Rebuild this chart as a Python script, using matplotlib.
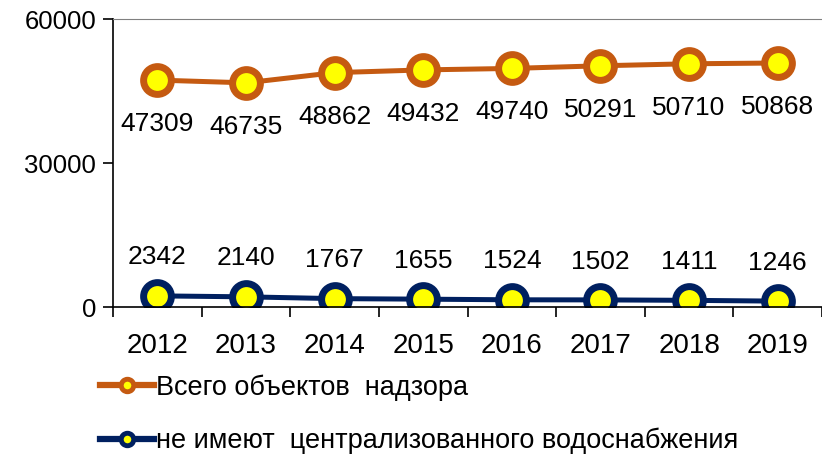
import matplotlib.pyplot as plt

plt.rcParams['font.family'] = ['Liberation Sans', 'DejaVu Sans']

years = ['2012', '2013', '2014', '2015', '2016', '2017', '2018', '2019']
vsego = [47309, 46735, 48862, 49432, 49740, 50291, 50710, 50868]
bez_vody = [2342, 2140, 1767, 1655, 1524, 1502, 1411, 1246]

orange = '#C55A11'
navy = '#002060'
yellow = '#FFFF00'

fig = plt.figure(figsize=(8.22, 4.57), dpi=100)
ax = fig.add_axes([0.1375, 0.328, 0.8625, 0.630])

x = list(range(len(years)))
l1, = ax.plot(x, vsego, color=orange, lw=3.6, marker='o', ms=20,
              mfc=yellow, mec=orange, mew=5, label='Всего объектов  надзора')
l2, = ax.plot(x, bez_vody, color=navy, lw=3.6, marker='o', ms=20,
              mfc=yellow, mec=navy, mew=5,
              label='не имеют  централизованного водоснабжения')

for xi, v in zip(x, vsego):
    ax.annotate(str(v), (xi, v), xytext=(0, -23), textcoords='offset points',
                ha='center', va='top', fontsize=19)
for xi, v in zip(x, bez_vody):
    ax.annotate(str(v), (xi, v), xytext=(0, 19), textcoords='offset points',
                ha='center', va='bottom', fontsize=19)

ax.set_xlim(-0.5, len(years) - 0.5)
ax.set_ylim(0, 60000)
ax.set_yticks([0, 30000, 60000])
ax.set_yticklabels(['0', '30000', '60000'], fontsize=18.5)
ax.set_xticks(x)
ax.set_xticklabels(years, fontsize=20)
ax.tick_params(axis='x', which='major', length=0, pad=19)
ax.set_xticks([i + 0.5 for i in range(-1, len(years))], minor=True)
ax.tick_params(axis='x', which='minor', length=7, width=1.2, direction='out')
ax.tick_params(axis='y', length=7, width=1.2, direction='out', pad=5)

ax.spines['right'].set_visible(False)
ax.spines['top'].set_color('#808080')
ax.spines['left'].set_linewidth(1.2)
ax.spines['bottom'].set_linewidth(1.2)

leg = fig.legend(handles=[l1, l2], loc='upper left', bbox_to_anchor=(0.108, 0.205),
                 frameon=False, fontsize=19.5, handlelength=2.0, handletextpad=0.1,
                 labelspacing=1.0, markerscale=0.45, borderaxespad=0)
for h in leg.legend_handles:
    h.set_markeredgewidth(3.5)
    h.set_linewidth(4.5)

fig.savefig('out.png', dpi=100)
